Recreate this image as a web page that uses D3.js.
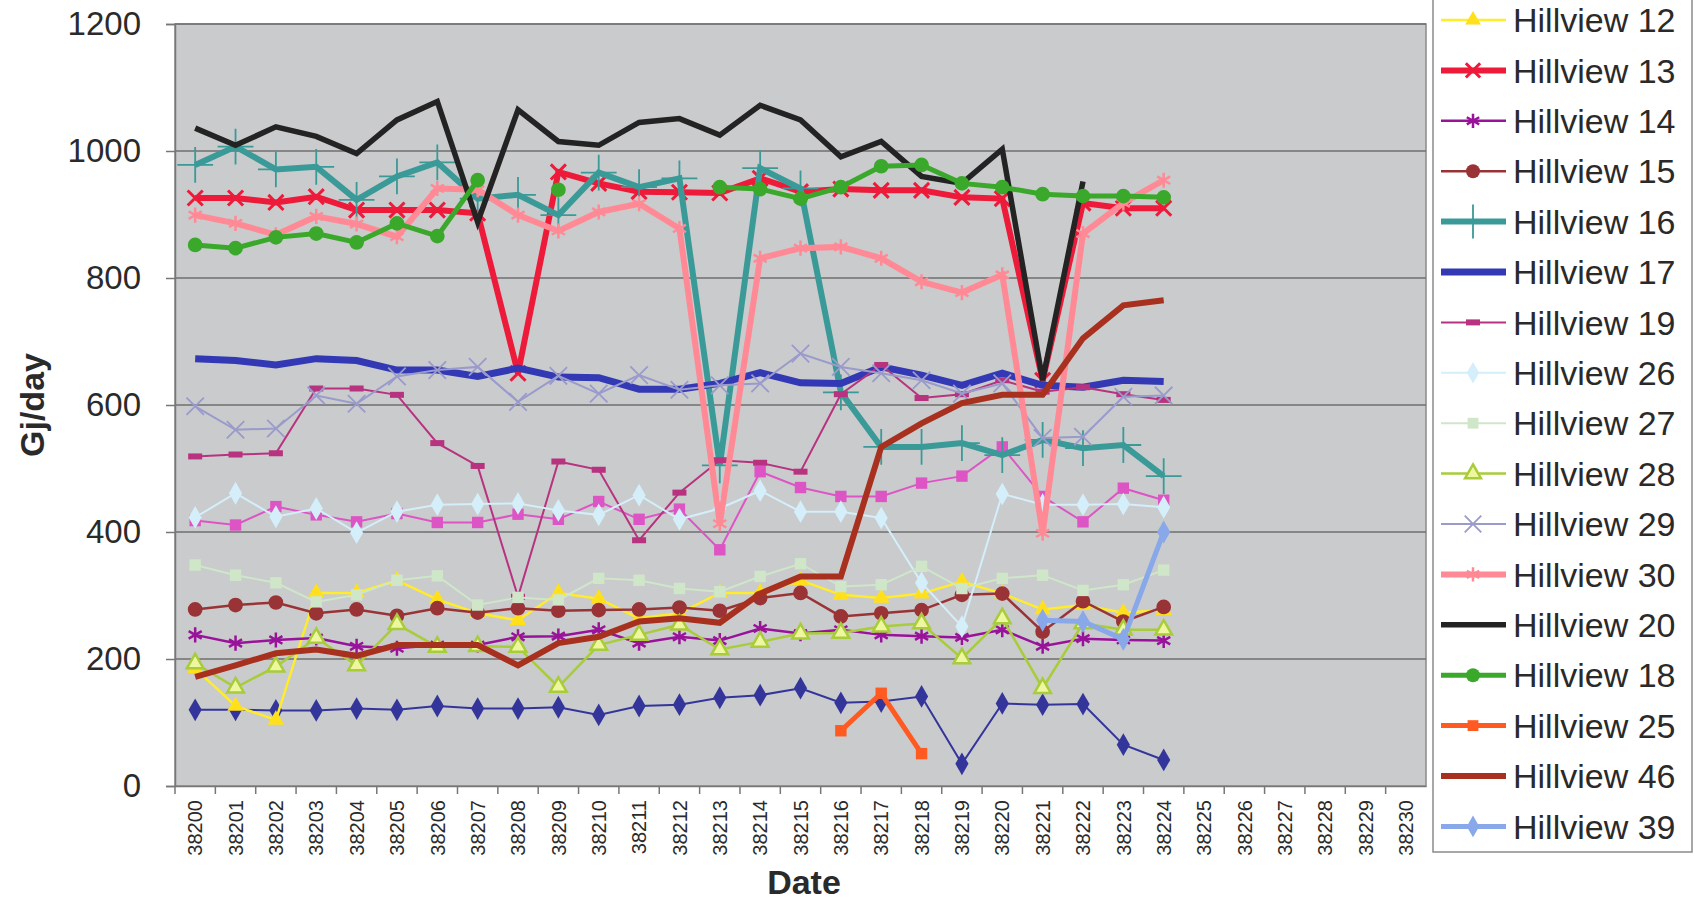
<!DOCTYPE html>
<html>
<head>
<meta charset="utf-8">
<script src="https://cdn.jsdelivr.net/npm/d3@7"></script>
<style>
  body { margin: 0; background: #fff; }
  text { font-family: "Liberation Sans", Arial, sans-serif; fill: #2a2a2a; }
</style>
</head>
<body>
<script>
// Gas consumption per site, one value per date (Excel serial numbers)
const dates = ["38200","38201","38202","38203","38204","38205","38206","38207","38208","38209",
  "38210","38211","38212","38213","38214","38215","38216","38217","38218","38219",
  "38220","38221","38222","38223","38224","38225","38226","38227","38228","38229","38230"];
const yTicks = [0, 200, 400, 600, 800, 1000, 1200];

const hv10 = [120,120,119,119,122,120,126,122,122,124,112,126,128,139,143,154,131,133,141,35,130,128,129,65,41];
const hv11 = [418,411,440,427,416,429,415,415,428,420,448,420,436,372,495,470,456,456,477,488,534,456,416,469,450];
const hv12 = [185,126,104,304,304,324,294,272,261,304,295,264,272,304,304,324,301,296,303,322,303,278,285,273,277];
const hv13 = [926,926,919,928,907,907,907,902,650,967,949,936,935,934,957,936,940,938,938,927,925,639,918,910,910];
const hv14 = [238,225,230,233,220,217,222,222,235,236,246,225,235,229,248,240,246,238,236,234,246,220,232,230,229];
const hv15 = [278,285,289,272,278,268,280,273,280,276,277,278,281,276,296,304,267,272,277,301,303,243,291,259,282];
const hv16 = [978,1007,971,975,923,960,982,925,931,899,966,943,957,505,973,941,620,534,534,540,521,545,532,537,488];
const hv17 = [673,670,663,673,670,655,655,645,658,644,643,625,625,634,651,635,634,660,647,631,650,631,628,639,637];
const hv19 = [519,522,524,626,626,616,540,504,298,511,498,387,462,513,509,495,617,663,611,617,639,621,628,617,608];
const hv26 = [423,461,424,437,399,432,443,444,445,434,427,458,420,437,465,432,432,422,320,251,460,443,443,444,439];
const hv27 = [348,332,320,290,301,324,331,285,297,293,327,324,311,306,330,350,314,317,346,311,327,332,308,317,340];
const hv28 = [193,155,188,233,190,255,219,220,219,156,222,238,254,215,227,240,241,251,256,201,264,154,256,246,246];
const hv29 = [598,561,563,615,602,645,655,660,605,646,618,647,624,631,634,681,660,650,639,618,634,548,550,613,615];
const hv30 = [899,886,868,897,885,865,941,939,899,874,904,917,878,413,831,847,849,831,794,777,805,398,870,918,954];
const hv20 = [1036,1009,1038,1023,996,1049,1078,888,1065,1015,1009,1045,1051,1025,1072,1049,991,1015,960,949,1003,639,952,null,null];
const hv18 = [852,847,864,870,856,886,866,954,null,939,null,null,null,943,940,925,943,976,978,949,943,932,929,929,927];
const hv25 = [null,null,null,null,null,null,null,null,null,null,null,null,null,null,null,null,87,146,51,null,null,null,null,null,null];
const hv46 = [172,190,209,215,205,222,222,222,190,225,235,259,264,257,303,330,330,534,571,603,616,616,705,757,765];
const hv39 = [null,null,null,null,null,null,null,null,null,null,null,null,null,null,null,null,null,null,null,null,null,261,259,231,400];

// series in chart order, with their look (first two legend rows sit above the picture)
const series = [
  { name: "Hillview 10", values: hv10, color: "#34359a", width: 2, marker: "diamond", fill: "#34359a", hidden: true },
  { name: "Hillview 11", values: hv11, color: "#dd55c4", width: 2, marker: "square", fill: "#dd55c4", hidden: true },
  { name: "Hillview 12", values: hv12, color: "#ffec2a", width: 2.5, marker: "triangle", fill: "#ffe01a" },
  { name: "Hillview 13", values: hv13, color: "#ee1a3a", width: 6, marker: "times", fill: "#ee1a3a" },
  { name: "Hillview 14", values: hv14, color: "#99129a", width: 2.5, marker: "asterisk", fill: "#99129a" },
  { name: "Hillview 15", values: hv15, color: "#993336", width: 2.5, marker: "circle", fill: "#993336" },
  { name: "Hillview 16", values: hv16, color: "#3a9a98", width: 6, marker: "plus", fill: "#3a9a98" },
  { name: "Hillview 17", values: hv17, color: "#3339b4", width: 7, marker: null },
  { name: "Hillview 19", values: hv19, color: "#b8337f", width: 2, marker: "dash", fill: "#b8337f" },
  { name: "Hillview 26", values: hv26, color: "#d4eefa", width: 2, marker: "diamond", fill: "#d4eefa" },
  { name: "Hillview 27", values: hv27, color: "#cfe6c9", width: 2, marker: "square", fill: "#cfe6c9" },
  { name: "Hillview 28", values: hv28, color: "#a8cc3a", width: 2.5, marker: "triangleOpen", fill: "#eef7a0" },
  { name: "Hillview 29", values: hv29, color: "#9a9acb", width: 2, marker: "timesThin", fill: "#9a9acb" },
  { name: "Hillview 30", values: hv30, color: "#ff8a96", width: 6, marker: "asterisk", fill: "#ff8a96" },
  { name: "Hillview 20", values: hv20, color: "#232323", width: 5.5, marker: null },
  { name: "Hillview 18", values: hv18, color: "#3aa82a", width: 5, marker: "circle", fill: "#3aa82a" },
  { name: "Hillview 25", values: hv25, color: "#ff5a22", width: 5, marker: "square", fill: "#ff5a22" },
  { name: "Hillview 46", values: hv46, color: "#a8301f", width: 6, marker: null },
  { name: "Hillview 39", values: hv39, color: "#88a8ea", width: 5, marker: "diamond", fill: "#88a8ea" }
];

const W = 1695, H = 903;
const svg = d3.select("body").append("svg").attr("width", W).attr("height", H);

const x = d3.scaleBand().domain(dates).range([175, 1426]);
const y = d3.scaleLinear().domain([0, 1200]).range([786, 24]);

// plot area
svg.append("rect")
  .attr("x", 175).attr("y", 24)
  .attr("width", 1426 - 175).attr("height", 786 - 24)
  .attr("fill", "#c9cbcd").attr("stroke", "#8a8a8a").attr("stroke-width", 1.5);

// gridlines
svg.append("g").selectAll("line")
  .data(yTicks.filter(d => d > 0))
  .enter().append("line")
  .attr("x1", 175).attr("x2", 1426)
  .attr("y1", d => y(d)).attr("y2", d => y(d))
  .attr("stroke", "#6f6f6f").attr("stroke-width", 1.5);

// y axis
const yAxis = svg.append("g")
  .attr("transform", "translate(175,0)")
  .call(d3.axisLeft(y).tickValues(yTicks).tickFormat(d3.format("d")).tickSize(9).tickPadding(25));
yAxis.select(".domain").attr("stroke", "#777").attr("stroke-width", 1.5);
yAxis.selectAll("line").attr("stroke", "#777").attr("stroke-width", 1.5);
yAxis.selectAll("text").style("font-size", "33px").attr("fill", "#2a2a2a");

// x axis: labels at centres, ticks between categories
const xAxis = svg.append("g")
  .attr("transform", "translate(0,786)")
  .call(d3.axisBottom(x).tickSize(0));
xAxis.select(".domain").attr("stroke", "#777").attr("stroke-width", 1.5);
xAxis.selectAll("text")
  .attr("transform", "rotate(-90)")
  .attr("x", -14).attr("y", 0).attr("dy", "0.36em")
  .style("text-anchor", "end")
  .style("font-size", "20px")
  .attr("fill", "#2a2a2a");
svg.append("g").selectAll("line")
  .data(dates)
  .enter().append("line")
  .attr("x1", d => x(d)).attr("x2", d => x(d))
  .attr("y1", 786).attr("y2", 794)
  .attr("stroke", "#777").attr("stroke-width", 1.5);

// axis titles
svg.append("text")
  .attr("transform", "translate(44,405) rotate(-90)")
  .attr("text-anchor", "middle")
  .style("font-size", "34px").style("font-weight", "bold")
  .text("Gj/day");
svg.append("text")
  .attr("x", 804).attr("y", 894)
  .attr("text-anchor", "middle")
  .style("font-size", "34px").style("font-weight", "bold")
  .text("Date");

// marker drawing
function drawMarker(g, s, cx, cy, scale) {
  const k = scale || 1;
  const t = `translate(${cx},${cy})`;
  switch (s.marker) {
    case "diamond":
      g.append("path").attr("transform", t).attr("d", d3.symbol(d3.symbolDiamond, 150 * k)()).attr("fill", s.fill);
      break;
    case "square":
      g.append("path").attr("transform", t).attr("d", d3.symbol(d3.symbolSquare, 130 * k)()).attr("fill", s.fill);
      break;
    case "triangle":
      g.append("path").attr("transform", t).attr("d", d3.symbol(d3.symbolTriangle, 120 * k)()).attr("fill", s.fill);
      break;
    case "triangleOpen":
      g.append("path").attr("transform", t).attr("d", d3.symbol(d3.symbolTriangle, 120 * k)())
        .attr("fill", s.fill).attr("stroke", s.color).attr("stroke-width", 2.5);
      break;
    case "circle":
      g.append("path").attr("transform", t).attr("d", d3.symbol(d3.symbolCircle, 170 * k)()).attr("fill", s.fill);
      break;
    case "times":
      g.append("path").attr("transform", t).attr("d", d3.symbol(d3.symbolTimes, 150 * k)())
        .attr("fill", "none").attr("stroke", s.color).attr("stroke-width", 3);
      break;
    case "timesThin":
      g.append("path").attr("transform", t).attr("d", d3.symbol(d3.symbolTimes, 200 * k)())
        .attr("fill", "none").attr("stroke", s.color).attr("stroke-width", 1.8);
      break;
    case "asterisk":
      g.append("path").attr("transform", t).attr("d", d3.symbol(d3.symbolAsterisk, 160 * k)())
        .attr("fill", "none").attr("stroke", s.color).attr("stroke-width", 2.5);
      break;
    case "plus":
      g.append("path").attr("transform", t).attr("d", d3.symbol(d3.symbolPlus, 420 * k)())
        .attr("fill", "none").attr("stroke", s.color).attr("stroke-width", 1.8);
      break;
    case "dash":
      g.append("rect").attr("x", cx - 7).attr("y", cy - 3).attr("width", 14).attr("height", 6).attr("fill", s.fill);
      break;
  }
}

// lines
const plot = svg.append("g");
series.forEach(s => {
  const pts = s.values.map((v, i) => ({ d: dates[i], v: v }));
  const line = d3.line()
    .defined(p => p.v !== null)
    .x(p => x(p.d) + x.bandwidth() / 2)
    .y(p => y(p.v));
  const g = plot.append("g");
  g.append("path")
    .attr("d", line(pts))
    .attr("fill", "none")
    .attr("stroke", s.color)
    .attr("stroke-width", s.width)
    .attr("stroke-linejoin", "miter");
  if (s.marker) {
    pts.filter(p => p.v !== null).forEach(p => drawMarker(g, s, x(p.d) + x.bandwidth() / 2, y(p.v)));
  }
});

// legend: its top runs off the picture, as in the original
const legend = svg.append("g");
const rowH = 50.4;
const firstRow = 20 - 2 * rowH;
legend.append("rect")
  .attr("x", 1433).attr("y", firstRow - 30)
  .attr("width", 1692 - 1433).attr("height", 852 - (firstRow - 30))
  .attr("fill", "#fff").attr("stroke", "#8a8a8a").attr("stroke-width", 1.5);
series.forEach((s, k) => {
  if (s.hidden) return;
  const cy = firstRow + k * rowH;
  const g = legend.append("g");
  g.append("line")
    .attr("x1", 1441).attr("x2", 1506)
    .attr("y1", cy).attr("y2", cy)
    .attr("stroke", s.color).attr("stroke-width", s.width);
  if (s.marker) drawMarker(g, s, 1473, cy, 0.9);
  g.append("text")
    .attr("x", 1513).attr("y", cy).attr("dy", "0.36em")
    .style("font-size", "34px")
    .text(s.name);
});
</script>
</body>
</html>
